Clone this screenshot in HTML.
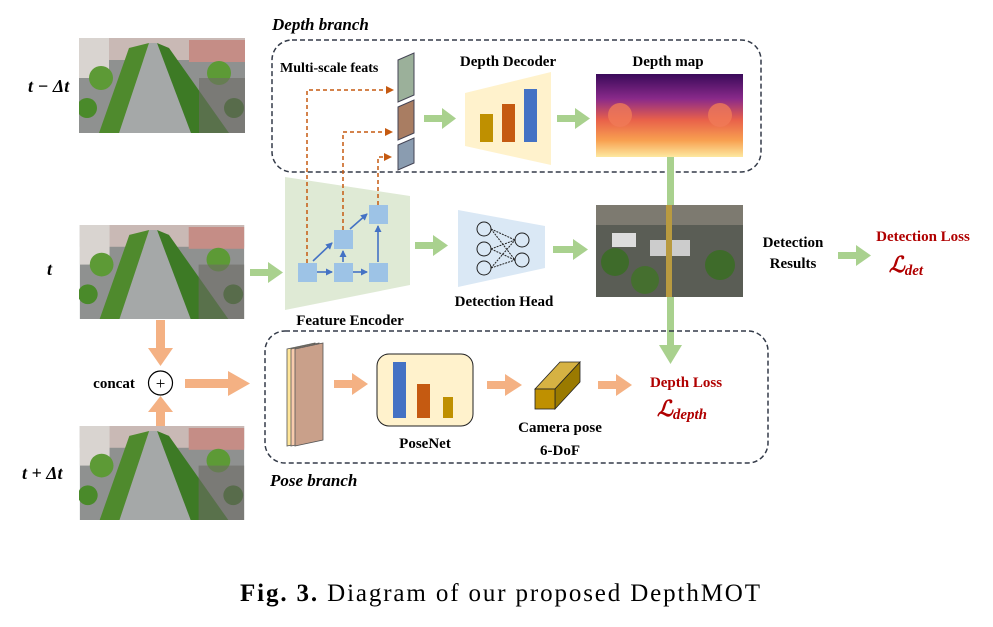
<!DOCTYPE html>
<html><head><meta charset="utf-8"><style>
html,body{margin:0;padding:0;background:#fff;}
svg{display:block;}
text{font-family:"Liberation Serif",serif;}
</style></head><body>
<svg width="993" height="627" viewBox="0 0 993 627" xmlns="http://www.w3.org/2000/svg">
<defs>
<symbol id="photo" viewBox="0 0 166 95">
<rect width="166" height="95" fill="#8f9190"/>
<rect width="166" height="22" fill="#c9b9b5"/>
<rect x="0" y="0" width="30" height="40" fill="#d9d4d0"/>
<rect x="110" y="2" width="56" height="22" fill="#c58d86"/>
<polygon points="70,5 78,5 112,95 40,95" fill="#a5a8a8"/>
<polygon points="50,10 70,5 40,95 20,95" fill="#4f8a2d"/>
<polygon points="78,5 90,10 150,95 112,95" fill="#3d7a25"/>
<circle cx="22" cy="40" r="12" fill="#5d9a36"/>
<circle cx="8" cy="70" r="10" fill="#4a8a2a"/>
<circle cx="140" cy="35" r="12" fill="#5d9a36"/>
<circle cx="155" cy="70" r="10" fill="#3b6e24"/>
<rect x="120" y="40" width="46" height="55" fill="#6c6a66" opacity="0.6"/>
</symbol>
<marker id="oa" markerWidth="8" markerHeight="8" refX="6" refY="4" orient="auto" markerUnits="userSpaceOnUse"><path d="M0,0 L8,4 L0,8 Z" fill="#c55a11"/></marker>
<marker id="ba" markerWidth="7" markerHeight="7" refX="6" refY="3.5" orient="auto" markerUnits="userSpaceOnUse"><path d="M0,0 L7,3.5 L0,7 Z" fill="#4472c4"/></marker>
<linearGradient id="dm" x1="0" y1="0" x2="0" y2="1">
<stop offset="0" stop-color="#3a0a5a"/><stop offset="0.3" stop-color="#8a2a8a"/><stop offset="0.55" stop-color="#e8604a"/><stop offset="0.8" stop-color="#f8a050"/><stop offset="1" stop-color="#fde8a0"/></linearGradient>
</defs>

<use href="#photo" x="79" y="38" width="166" height="95"/>
<use href="#photo" x="79" y="225" width="166" height="94"/>
<use href="#photo" x="79" y="426" width="166" height="94"/>
<text x="28" y="92" font-size="18" font-style="italic" font-weight="bold">t − Δt</text>
<text x="47" y="275" font-size="18" font-style="italic" font-weight="bold">t</text>
<text x="22" y="479" font-size="18" font-style="italic" font-weight="bold">t + Δt</text>

<rect x="272" y="40" width="489" height="132" rx="20" fill="none" stroke="#333a48" stroke-width="1.5" stroke-dasharray="5,3"/>
<text x="272" y="30" font-size="17" font-style="italic" font-weight="bold">Depth branch</text>
<text x="280" y="72" font-size="14" font-weight="bold">Multi-scale feats</text>

<polygon points="285,177 410,196 410,285 285,310" fill="#dfead5"/>
<g stroke="#4472c4" stroke-width="1.6" fill="none">
<line x1="317" y1="272" x2="332" y2="272" marker-end="url(#ba)"/>
<line x1="353" y1="272" x2="367" y2="272" marker-end="url(#ba)"/>
<line x1="343" y1="262" x2="343" y2="251" marker-end="url(#ba)"/>
<line x1="378" y1="262" x2="378" y2="226" marker-end="url(#ba)"/>
<line x1="313" y1="261" x2="332" y2="243" marker-end="url(#ba)"/>
<line x1="350" y1="229" x2="367" y2="214" marker-end="url(#ba)"/>
</g>
<g fill="#9dc3e6">
<rect x="298" y="263" width="19" height="19"/><rect x="334" y="263" width="19" height="19"/><rect x="369" y="263" width="19" height="19"/>
<rect x="334" y="230" width="19" height="19"/><rect x="369" y="205" width="19" height="19"/>
</g>
<g stroke="#c55a11" stroke-width="1.5" fill="none" stroke-dasharray="4,3">
<polyline points="307,263 307,90 392,90" marker-end="url(#oa)"/>
<polyline points="343,230 343,132 391,132" marker-end="url(#oa)"/>
<polyline points="378,205 378,157 390,157" marker-end="url(#oa)"/>
</g>
<text x="350" y="325" font-size="15" font-weight="bold" text-anchor="middle">Feature Encoder</text>

<polygon points="398,60 414,53 414,95 398,102" fill="#9bb09a" stroke="#445" stroke-width="1"/>
<polygon points="398,107 414,100 414,133 398,140" fill="#a97d62" stroke="#445" stroke-width="1"/>
<polygon points="398,145 414,138 414,163 398,170" fill="#8a9cb0" stroke="#445" stroke-width="1"/>

<g fill="#a9d18e">
<rect x="424" y="115" width="20" height="7"/><polygon points="442,108 456,118.5 442,129"/>
<rect x="557" y="115" width="20" height="7"/><polygon points="575,108 590,118.5 575,129"/>
<rect x="415" y="242" width="20" height="7"/><polygon points="433,235 448,245.5 433,256"/>
<rect x="553" y="246" width="22" height="7"/><polygon points="573,239 588,249.5 573,260"/>
<rect x="250" y="269" width="20" height="7"/><polygon points="268,262 283,272.5 268,283"/>
<rect x="838" y="252" width="20" height="7"/><polygon points="856,245 871,255.5 856,266"/>
<rect x="667" y="157" width="7" height="193"/><polygon points="659,345 670.5,364 682,345"/>
</g>

<polygon points="465,93 551,72 551,165 465,146" fill="#fff2cc"/>
<rect x="480" y="114" width="13" height="28" fill="#bf9000"/>
<rect x="502" y="104" width="13" height="38" fill="#c55a11"/>
<rect x="524" y="89" width="13" height="53" fill="#4472c4"/>
<text x="508" y="66" font-size="15" font-weight="bold" text-anchor="middle">Depth Decoder</text>
<text x="668" y="66" font-size="15" font-weight="bold" text-anchor="middle">Depth map</text>
<rect x="596" y="74" width="147" height="83" fill="url(#dm)"/>
<circle cx="620" cy="115" r="12" fill="#f07a58" opacity="0.8"/>
<circle cx="720" cy="115" r="12" fill="#f07a58" opacity="0.8"/>

<polygon points="458,210 545,226 545,268 458,287" fill="#dae8f5"/>
<g stroke="#222" stroke-width="1" fill="none">
<circle cx="484" cy="229" r="7"/><circle cx="484" cy="249" r="7"/><circle cx="484" cy="268" r="7"/>
<circle cx="522" cy="240" r="7"/><circle cx="522" cy="260" r="7"/>
<path d="M491,229 L515,240 M491,229 L515,260 M491,249 L515,240 M491,249 L515,260 M491,268 L515,240 M491,268 L515,260" stroke-dasharray="2,1"/>
</g>
<text x="504" y="306" font-size="15" font-weight="bold" text-anchor="middle">Detection Head</text>
<rect x="596" y="205" width="147" height="92" fill="#5a5d55"/>
<rect x="596" y="205" width="147" height="20" fill="#7d7a70"/>
<circle cx="615" cy="262" r="14" fill="#3e6b2a"/><circle cx="645" cy="280" r="14" fill="#456f2f"/><circle cx="720" cy="265" r="15" fill="#3e6b2a"/>
<rect x="612" y="233" width="24" height="14" fill="#ddd"/><rect x="650" y="240" width="40" height="16" fill="#ccc"/>
<rect x="666" y="205" width="6" height="92" fill="#b89a40"/>
<text x="793" y="247" font-size="15" font-weight="bold" text-anchor="middle">Detection</text>
<text x="793" y="268" font-size="15" font-weight="bold" text-anchor="middle">Results</text>
<text x="923" y="241" font-size="15" font-weight="bold" text-anchor="middle" fill="#b00000">Detection Loss</text>
<text x="906" y="272" font-size="22" font-weight="bold" font-style="italic" text-anchor="middle" fill="#b00000">ℒ<tspan font-size="15" dy="3">det</tspan></text>

<g fill="#f4b183">
<rect x="156" y="320" width="9" height="30"/><polygon points="148,348 160.5,366 173,348"/>
<rect x="156" y="410" width="9" height="16"/><polygon points="148,412 160.5,396 173,412"/>
<rect x="185" y="379" width="45" height="9"/><polygon points="228,371 250,383.5 228,396"/>
<rect x="334" y="380" width="20" height="8"/><polygon points="352,373 368,384 352,395"/>
<rect x="487" y="381" width="20" height="8"/><polygon points="505,374 522,385 505,396"/>
<rect x="598" y="381" width="20" height="8"/><polygon points="616,374 632,385 616,396"/>
</g>
<circle cx="160.5" cy="383" r="12" fill="#fff" stroke="#000" stroke-width="1.2"/>
<text x="160.5" y="389" font-size="17" text-anchor="middle">+</text>
<text x="114" y="388" font-size="15" font-weight="bold" text-anchor="middle">concat</text>

<rect x="265" y="331" width="503" height="132" rx="20" fill="none" stroke="#333a48" stroke-width="1.5" stroke-dasharray="5,3"/>
<text x="270" y="486" font-size="17" font-style="italic" font-weight="bold">Pose branch</text>
<polygon points="287,349 315,343 315,440 287,446" fill="#ffe699" stroke="#555" stroke-width="0.8"/>
<polygon points="291,349 319,343 319,440 291,446" fill="#f8cbad" stroke="#555" stroke-width="0.8"/>
<polygon points="295,349 323,343 323,440 295,446" fill="#c9a08a" stroke="#555" stroke-width="0.8"/>
<rect x="377" y="354" width="96" height="72" rx="12" fill="#fff2cc" stroke="#222" stroke-width="1"/>
<rect x="393" y="362" width="13" height="56" fill="#4472c4"/>
<rect x="417" y="384" width="13" height="34" fill="#c55a11"/>
<rect x="443" y="397" width="10" height="21" fill="#bf9000"/>
<text x="425" y="448" font-size="15" font-weight="bold" text-anchor="middle">PoseNet</text>
<polygon points="535,389 560,362 580,362 555,389" fill="#d6b243" stroke="#222" stroke-width="0.8"/>
<polygon points="555,389 580,362 580,382 555,409" fill="#9a7a00" stroke="#222" stroke-width="0.8"/>
<rect x="535" y="389" width="20" height="20" fill="#bf9000" stroke="#222" stroke-width="0.8"/>
<text x="560" y="432" font-size="15" font-weight="bold" text-anchor="middle">Camera pose</text>
<text x="560" y="455" font-size="15" font-weight="bold" text-anchor="middle">6-DoF</text>
<text x="686" y="387" font-size="15" font-weight="bold" text-anchor="middle" fill="#b00000">Depth Loss</text>
<text x="682" y="416" font-size="22" font-weight="bold" font-style="italic" text-anchor="middle" fill="#b00000">ℒ<tspan font-size="15" dy="3">depth</tspan></text>

<text x="240" y="601" font-size="25" textLength="520" lengthAdjust="spacing"><tspan font-weight="bold">Fig. 3.</tspan> Diagram of our proposed DepthMOT</text>
</svg>
</body></html>
